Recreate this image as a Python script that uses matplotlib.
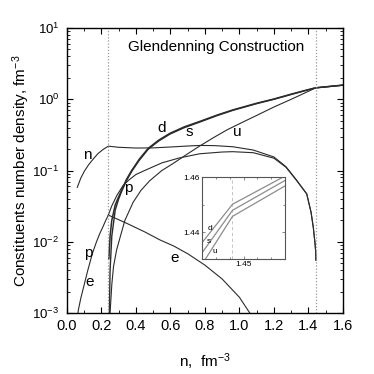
import matplotlib
matplotlib.use("Agg")
import matplotlib.pyplot as plt
from matplotlib.ticker import MultipleLocator, FormatStrFormatter, LogLocator, NullFormatter

plt.rcParams["font.family"] = ["Liberation Sans", "DejaVu Sans"]
plt.rcParams["mathtext.fontset"] = "custom"
plt.rcParams["mathtext.rm"] = "Liberation Sans"
plt.rcParams["mathtext.it"] = "Liberation Sans:italic"

# neutrons (hadronic + mixed phase)
n_x = [0.06, 0.08, 0.10, 0.125, 0.15, 0.18, 0.21, 0.24, 0.30, 0.40, 0.50, 0.60, 0.70,
       0.77, 0.85, 0.96, 1.08, 1.20, 1.27, 1.33, 1.39, 1.415, 1.428, 1.438, 1.442, 1.443]
n_y = [0.058, 0.078, 0.097, 0.12, 0.143, 0.173, 0.198, 0.22, 0.212, 0.207, 0.208, 0.214, 0.221,
       0.225, 0.224, 0.216, 0.194, 0.155, 0.113, 0.074, 0.047, 0.026, 0.016, 0.0095, 0.0072, 0.0055]

# protons = electrons in hadronic phase
pe_x = [0.062, 0.066, 0.08, 0.10, 0.12, 0.147, 0.17, 0.19, 0.21, 0.225, 0.24]
pe_y = [0.0009, 0.0011, 0.0016, 0.0025, 0.0039, 0.0068, 0.0098, 0.013, 0.0165, 0.020, 0.0237]

# protons, mixed phase
p_x = [0.24, 0.26, 0.29, 0.326, 0.36, 0.40, 0.45, 0.55, 0.65, 0.77, 0.90, 0.96, 1.08,
       1.20, 1.27, 1.33, 1.39, 1.415, 1.428, 1.438, 1.442, 1.443]
p_y = [0.0237, 0.032, 0.045, 0.062, 0.074, 0.088, 0.10, 0.128, 0.15, 0.172, 0.182, 0.184, 0.178,
       0.149, 0.111, 0.073, 0.047, 0.026, 0.016, 0.0095, 0.0072, 0.0055]

# electrons, mixed phase
e_x = [0.24, 0.35, 0.45, 0.54, 0.62, 0.70, 0.80, 0.90, 1.00, 1.06, 1.08]
e_y = [0.0237, 0.018, 0.0138, 0.0106, 0.0087, 0.0068, 0.0047, 0.0030, 0.00166, 0.0010, 0.0008]

# quarks
d_x = [0.243, 0.25, 0.26, 0.28, 0.30, 0.317, 0.345, 0.375, 0.42, 0.471, 0.53, 0.597, 0.68,
       0.771, 0.87, 0.962, 1.10, 1.20, 1.30, 1.38, 1.442, 1.60]
d_y = [0.0058, 0.012, 0.020, 0.033, 0.043, 0.053, 0.075, 0.10, 0.145, 0.205, 0.265, 0.333, 0.41,
       0.49, 0.60, 0.71, 0.88, 1.01, 1.18, 1.33, 1.45, 1.58]

s_x = [0.246, 0.25, 0.26, 0.28, 0.30, 0.317, 0.345, 0.375, 0.42, 0.471, 0.53, 0.597, 0.68,
       0.771, 0.87, 0.962, 1.10, 1.20, 1.30, 1.38, 1.442, 1.60]
s_y = [0.001, 0.004, 0.012, 0.028, 0.040, 0.051, 0.072, 0.097, 0.14, 0.199, 0.258, 0.325, 0.40,
       0.48, 0.59, 0.70, 0.87, 1.00, 1.17, 1.32, 1.448, 1.58]

u_x = [0.25, 0.26, 0.27, 0.288, 0.31, 0.336, 0.384, 0.43, 0.48, 0.55, 0.614, 0.70, 0.771,
       0.85, 0.926, 1.00, 1.10, 1.20, 1.30, 1.38, 1.442, 1.60]
u_y = [0.001, 0.0025, 0.0045, 0.0077, 0.012, 0.020, 0.036, 0.053, 0.072, 0.10, 0.125, 0.172, 0.222,
       0.29, 0.37, 0.454, 0.594, 0.78, 1.0, 1.23, 1.446, 1.58]

# inset (zoom around the upper phase boundary)
ins_x = [1.42, 1.442, 1.48]
ins_d = [1.4361, 1.4501, 1.4604]
ins_s = [1.4324, 1.4479, 1.4588]
ins_u = [1.4282, 1.4457, 1.4568]

phase_bounds = [0.24, 1.442]

line_color = "#2b2b2b"

fig = plt.figure(figsize=(3.74, 3.74), dpi=100)
ax = fig.add_axes([0.179, 0.163, 0.738, 0.762])

for xs, ys in [(n_x, n_y), (pe_x, pe_y), (p_x, p_y), (e_x, e_y), (u_x, u_y)]:
    ax.plot(xs, ys, color=line_color, linewidth=0.8)
ax.plot(d_x, d_y, color=line_color, linewidth=1.1)
ax.plot(s_x, s_y, color=line_color, linewidth=1.0)

for xb in phase_bounds:
    ax.axvline(xb, color="#999999", linestyle=(0, (1, 1.5)), linewidth=0.9)

ax.set_yscale("log")
ax.set_xlim(0.0, 1.6)
ax.set_ylim(1e-3, 10)
ax.xaxis.set_major_locator(MultipleLocator(0.2))
ax.xaxis.set_minor_locator(MultipleLocator(0.1))
ax.xaxis.set_major_formatter(FormatStrFormatter("%.1f"))
ax.yaxis.set_minor_locator(LogLocator(base=10, subs=range(2, 10)))
ax.yaxis.set_minor_formatter(NullFormatter())
ax.tick_params(which="both", direction="in", top=True, right=True)
ax.tick_params(axis="x", labelsize=10.5, pad=4.5)
ax.tick_params(axis="y", labelsize=9.5, pad=5.5)
ax.tick_params(which="major", length=4, width=0.8)
ax.tick_params(which="minor", length=2, width=0.6)
for spine in ax.spines.values():
    spine.set_linewidth(1.0)

ax.set_xlabel("n,  fm$^{-3}$", fontsize=11, labelpad=13)
ax.set_ylabel("Constituents number density, fm$^{-3}$", fontsize=11)
ax.yaxis.set_label_coords(-0.125, 0.5)

ax.text(0.867, 5.4, "Glendenning Construction", fontsize=11, ha="center", va="center")

labels = [
    ("n", 0.118, 0.165),
    ("d", 0.551, 0.394),
    ("s", 0.709, 0.35),
    ("u", 0.986, 0.35),
    ("p", 0.355, 0.056),
    ("p", 0.123, 0.0070),
    ("e", 0.133, 0.00275),
    ("e", 0.626, 0.0059),
]
for text, x, y in labels:
    ax.text(x, y, text, fontsize=11, ha="center", va="center")

axins = fig.add_axes([0.540, 0.3067, 0.2227, 0.22])
axins.set_facecolor("white")
axins.axvline(1.442, color="#bbbbbb", linestyle=(0, (4, 3)), linewidth=0.6)
for ys in (ins_d, ins_s, ins_u):
    axins.plot(ins_x, ys, color="#8c8c8c", linewidth=0.9)
axins.set_xlim(1.42, 1.48)
axins.set_ylim(1.4301, 1.46)
axins.xaxis.set_major_locator(MultipleLocator(0.05))
axins.xaxis.set_minor_locator(MultipleLocator(0.01))
axins.yaxis.set_major_locator(MultipleLocator(0.02))
axins.yaxis.set_minor_locator(MultipleLocator(0.01))
axins.xaxis.set_major_formatter(FormatStrFormatter("%.2f"))
axins.yaxis.set_major_formatter(FormatStrFormatter("%.2f"))
axins.tick_params(which="both", direction="in", top=True, right=True, labelsize=6, pad=1.5,
                  color="#555555")
axins.tick_params(which="major", length=2.5, width=0.5)
axins.tick_params(which="minor", length=1.5, width=0.5)
for spine in axins.spines.values():
    spine.set_linewidth(0.8)
    spine.set_edgecolor("#555555")
axins.text(1.4258, 1.4412, "d", fontsize=6, ha="center", va="center")
axins.text(1.4253, 1.4366, "s", fontsize=6, ha="center", va="center")
axins.text(1.4293, 1.4330, "u", fontsize=6, ha="center", va="center")

fig.savefig("out.png", dpi=100)
